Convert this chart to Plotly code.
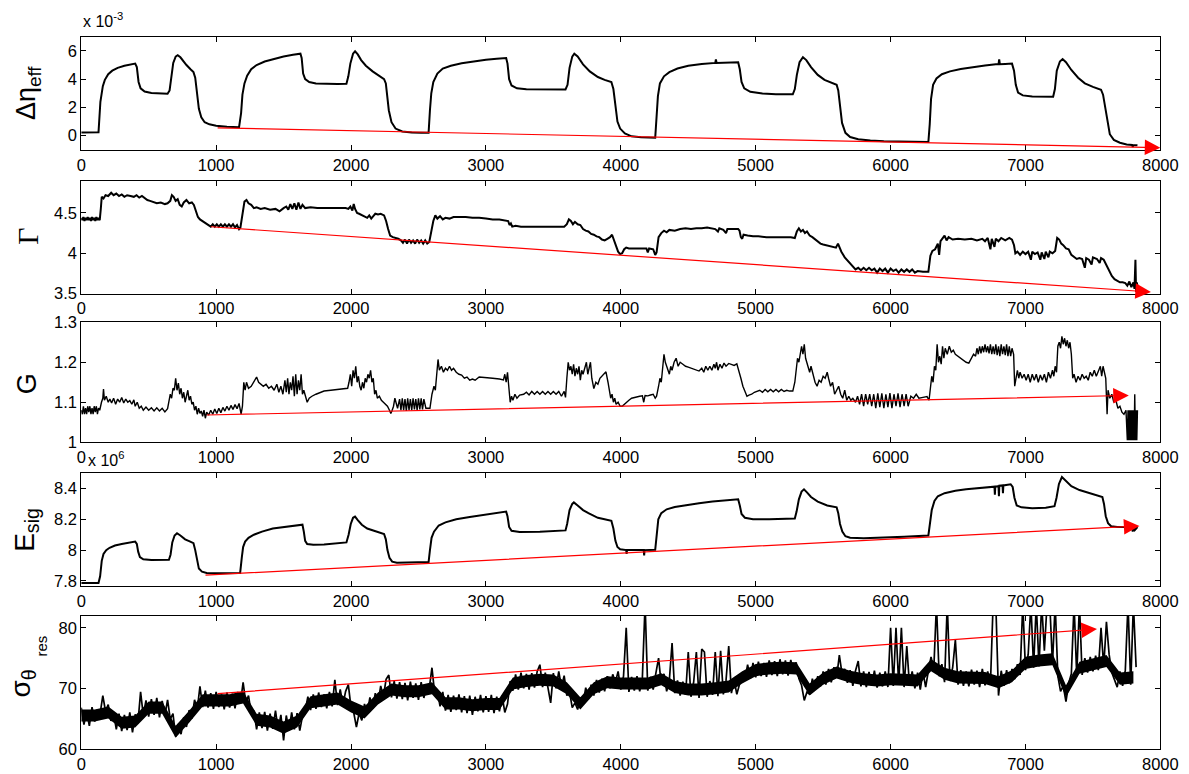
import plotly.graph_objects as go

# ---------------- data ----------------
x_ticks = [0, 1000, 2000, 3000, 4000, 5000, 6000, 7000, 8000]

# Panel 1: delta eta_eff (units of 1e-3)
eta_x = [0, 60, 128, 142, 160, 175, 200, 230, 270, 320, 370, 400, 412, 425, 440, 470, 520, 580, 640, 655, 668, 682,
         700, 715, 735, 755, 780, 810, 832, 845, 858, 872, 890, 915, 950, 1000, 1080, 1170, 1185, 1195, 1210, 1230,
         1260, 1300, 1360, 1430, 1500, 1570, 1625, 1634, 1645, 1660, 1690, 1740, 1800, 1900, 1966, 1980, 1995, 2015,
         2030, 2050, 2075, 2110, 2160, 2210, 2245, 2258, 2268, 2280, 2300, 2330, 2380, 2450, 2520, 2575, 2585, 2595,
         2610, 2640, 2680, 2740, 2820, 2900, 3000, 3080, 3150, 3160, 3172, 3190, 3230, 3300, 3400, 3590, 3605, 3620,
         3640, 3655, 3680, 3720, 3770, 3830, 3880, 3930, 3945, 3960, 3975, 3995, 4030, 4080, 4150, 4255, 4262, 4275,
         4290, 4320, 4360, 4420, 4500, 4600, 4700, 4705, 4710, 4800, 4870, 4882, 4895, 4915, 4960, 5050, 5150, 5275,
         5290, 5305, 5325, 5350, 5375, 5410, 5460, 5510, 5560, 5600, 5612, 5625, 5640, 5665, 5700, 5760, 5850, 5950,
         6100, 6280, 6290, 6300, 6315, 6340, 6380, 6440, 6520, 6600, 6700, 6780, 6800, 6805, 6810, 6850, 6900, 6915,
         6928, 6945, 6980, 7050, 7150, 7205, 7218, 7232, 7255, 7275, 7300, 7340, 7390, 7440, 7500, 7560, 7575, 7590,
         7605, 7625, 7655, 7700, 7750, 7790, 7795, 7800, 7830]
eta_y = [0.23, 0.24, 0.24, 2.4, 3.5, 3.95, 4.35, 4.6, 4.8, 4.95, 5.05, 5.1, 4.85, 3.8, 3.35, 3.12, 3.02, 2.97, 2.97,
         3.2, 4.3, 5.15, 5.6, 5.7, 5.55, 5.3, 5.0, 4.7, 4.5, 4.1, 3.0, 1.9, 1.3, 0.95, 0.8, 0.7, 0.63, 0.6, 1.6, 2.9,
         3.7, 4.25, 4.7, 5.0, 5.25, 5.45, 5.6, 5.72, 5.8, 5.5, 4.4, 4.0, 3.8, 3.7, 3.67, 3.66, 3.68, 4.2, 5.1, 5.8,
         5.97, 5.75, 5.35, 4.95, 4.55, 4.25, 4.0, 3.7, 2.8, 1.8, 0.95, 0.5, 0.3, 0.22, 0.2, 0.2, 1.8, 3.0, 3.8, 4.4,
         4.75, 4.95, 5.12, 5.25, 5.38, 5.45, 5.5, 5.1, 4.0, 3.55, 3.35, 3.28, 3.27, 3.27, 3.6, 4.8, 5.6, 5.8, 5.6,
         5.05, 4.55, 4.15, 3.95, 3.8, 3.3, 2.0, 1.0, 0.5, 0.15, -0.05, -0.12, -0.15, 1.0, 2.8, 3.7, 4.2, 4.5, 4.75,
         4.95, 5.08, 5.15, 5.4, 5.15, 5.2, 5.2, 4.7, 3.8, 3.35, 3.1, 2.98, 2.93, 2.93, 3.3, 4.3, 5.2, 5.55, 5.35,
         4.85, 4.3, 3.95, 3.75, 3.6, 3.2, 2.0, 0.9, 0.2, -0.1, -0.25, -0.35, -0.4, -0.42, -0.45, 0.8, 2.6, 3.6, 4.05,
         4.35, 4.55, 4.72, 4.85, 4.97, 5.05, 5.05, 5.4, 5.06, 5.08, 5.1, 4.6, 3.6, 3.05, 2.85, 2.77, 2.73, 2.75, 3.3,
         4.6, 5.25, 5.42, 5.2, 4.65, 4.1, 3.7, 3.45, 3.25, 2.9, 2.0, 1.0, 0.1, -0.3, -0.5, -0.62, -0.66, -0.8, -0.66,
         -0.68]

# Panel 2: Gamma
gam_x = [0, 8, 16, 24, 32, 40, 48, 56, 64, 72, 80, 88, 96, 104, 112, 120, 128, 137, 145, 152, 165, 180, 200, 222,
         240, 260, 280, 300, 320, 340, 365, 390, 410, 430, 450, 470, 490, 510, 530, 560, 590, 620, 640, 660, 672,
         685, 700, 715, 730, 745, 760, 780, 800, 820, 835, 850, 865, 880, 900, 920, 940, 960, 975, 990, 1005, 1020,
         1035, 1050, 1065, 1080, 1095, 1110, 1125, 1140, 1155, 1170, 1180, 1195, 1210, 1225, 1240, 1260, 1280, 1300,
         1330, 1360, 1400, 1440, 1470, 1500, 1520, 1535, 1550, 1565, 1580, 1595, 1610, 1625, 1640, 1660, 1700, 1750,
         1800, 1850, 1900, 1960, 1980, 1995, 2010, 2020, 2030, 2045, 2060, 2080, 2100, 2120, 2135, 2150, 2165, 2180,
         2200, 2220, 2245, 2260, 2275, 2290, 2310, 2330, 2350, 2370, 2385, 2400, 2415, 2430, 2445, 2460, 2475, 2490,
         2505, 2520, 2535, 2550, 2565, 2580, 2595, 2610, 2625, 2640, 2660, 2680, 2700, 2730, 2760, 2800, 2850, 2900,
         2950, 3000, 3050, 3100, 3150, 3165, 3175, 3185, 3195, 3220, 3260, 3300, 3400, 3500, 3580, 3600, 3615, 3630,
         3645, 3660, 3680, 3700, 3720, 3740, 3760, 3780, 3800, 3820, 3840, 3860, 3880, 3900, 3920, 3935, 3950, 3965,
         3980, 3995, 4010, 4025, 4040, 4060, 4100, 4150, 4190, 4200, 4210, 4240, 4255, 4265, 4280, 4300, 4320, 4340,
         4360, 4400, 4440, 4480, 4520, 4560, 4600, 4640, 4680, 4700, 4720, 4730, 4760, 4780, 4790, 4830, 4870, 4880,
         4890, 4900, 4910, 4940, 4980, 5020, 5080, 5150, 5200, 5260, 5290, 5305, 5320, 5335, 5350, 5365, 5380, 5400,
         5420, 5440, 5460, 5480, 5500, 5540, 5570, 5595, 5610, 5620, 5635, 5660, 5680, 5700, 5720, 5740, 5760, 5780,
         5800, 5820, 5840, 5860, 5880, 5900, 5920, 5940, 5960, 5980, 6000, 6020, 6040, 6060, 6080, 6100, 6120, 6140,
         6160, 6180, 6200, 6240, 6280, 6295, 6310, 6330, 6350, 6360, 6370, 6385, 6400, 6415, 6430, 6460, 6500, 6550,
         6600, 6640, 6680, 6700, 6720, 6740, 6750, 6770, 6780, 6800, 6820, 6850, 6880, 6900, 6915, 6925, 6940, 6960,
         6980, 7000, 7020, 7040, 7050, 7070, 7090, 7110, 7120, 7140, 7150, 7170, 7180, 7200, 7220, 7235, 7250, 7265,
         7280, 7300, 7320, 7340, 7360, 7380, 7400, 7420, 7440, 7450, 7470, 7490, 7500, 7530, 7550, 7560, 7580, 7600,
         7620, 7640, 7660, 7680, 7700, 7720, 7740, 7755, 7770, 7785, 7800, 7808, 7815, 7820, 7825, 7830]
gam_y = [4.44, 4.41, 4.45, 4.40, 4.44, 4.41, 4.45, 4.41, 4.44, 4.40, 4.45, 4.41, 4.44, 4.40, 4.45, 4.41, 4.44, 4.41,
         4.55, 4.70, 4.68, 4.72, 4.71, 4.75, 4.72, 4.74, 4.71, 4.73, 4.70, 4.72, 4.71, 4.70, 4.72, 4.69, 4.71, 4.68,
         4.66, 4.65, 4.64, 4.62, 4.63, 4.61, 4.62, 4.65, 4.72, 4.70, 4.65, 4.67, 4.60, 4.58, 4.63, 4.66, 4.62, 4.63,
         4.60, 4.52, 4.45, 4.42, 4.40, 4.37, 4.36, 4.33, 4.36, 4.33, 4.36, 4.33, 4.36, 4.33, 4.36, 4.33, 4.36, 4.33,
         4.36, 4.32, 4.35, 4.30, 4.32, 4.50, 4.64, 4.66, 4.62, 4.60, 4.56, 4.57, 4.55, 4.56, 4.54, 4.55, 4.52, 4.56,
         4.58, 4.54, 4.61, 4.55, 4.62, 4.54, 4.63, 4.55, 4.60, 4.56, 4.57, 4.56, 4.56, 4.56, 4.56, 4.56, 4.55, 4.58,
         4.53, 4.61, 4.55, 4.50, 4.49, 4.47, 4.46, 4.44, 4.47, 4.43, 4.46, 4.49, 4.48, 4.49, 4.47, 4.40, 4.30, 4.22,
         4.20, 4.19, 4.18, 4.16, 4.13, 4.17, 4.12, 4.17, 4.13, 4.16, 4.12, 4.17, 4.13, 4.16, 4.12, 4.16, 4.12, 4.14,
         4.30, 4.40, 4.47, 4.43, 4.46, 4.42, 4.44, 4.43, 4.45, 4.45, 4.45, 4.44, 4.44, 4.43, 4.42, 4.42, 4.41, 4.40,
         4.35, 4.37, 4.33, 4.34, 4.33, 4.33, 4.33, 4.33, 4.33, 4.36, 4.42, 4.40, 4.36, 4.39, 4.36, 4.35, 4.30, 4.28,
         4.27, 4.24, 4.23, 4.21, 4.20, 4.17, 4.16, 4.18, 4.20, 4.23, 4.15, 4.07, 4.02, 3.99, 4.00, 4.05, 4.07, 4.06,
         4.06, 4.06, 4.06, 4.01, 4.06, 4.05, 3.98, 4.01, 4.20, 4.25, 4.28, 4.26, 4.29, 4.28, 4.30, 4.31, 4.30, 4.31,
         4.31, 4.32, 4.31, 4.30, 4.27, 4.31, 4.29, 4.25, 4.30, 4.30, 4.30, 4.28, 4.20, 4.18, 4.23, 4.22, 4.21, 4.21,
         4.20, 4.20, 4.20, 4.20, 4.19, 4.27, 4.31, 4.27, 4.29, 4.25, 4.27, 4.22, 4.20, 4.17, 4.14, 4.12, 4.11, 4.09,
         4.08, 4.07, 4.12, 4.08, 4.02, 3.95, 3.91, 3.87, 3.83, 3.80, 3.82, 3.79, 3.82, 3.79, 3.82, 3.79, 3.81, 3.76,
         3.81, 3.78, 3.81, 3.76, 3.81, 3.78, 3.80, 3.76, 3.80, 3.77, 3.80, 3.77, 3.80, 3.76, 3.78, 3.77, 3.77, 3.97,
         4.03, 4.05, 4.12, 3.98, 4.15, 4.18, 4.22, 4.16, 4.20, 4.17, 4.18, 4.17, 4.18, 4.16, 4.18, 4.15, 4.19, 4.05,
         4.18, 4.08, 4.18, 4.15, 4.19, 4.16, 4.19, 4.17, 4.10, 4.00, 4.02, 3.98, 4.02, 3.99, 4.02, 3.92, 4.02, 3.99,
         4.01, 3.92, 4.01, 3.93, 4.02, 3.95, 4.02, 4.00, 4.03, 4.19, 4.17, 4.12, 4.10, 4.06, 4.05, 3.98, 3.95, 3.93,
         3.94, 3.93, 3.82, 3.94, 3.92, 3.86, 3.95, 3.93, 3.88, 3.94, 3.92, 3.85, 3.78, 3.72, 3.68, 3.66, 3.64, 3.64,
         3.63, 3.60, 3.65, 3.58, 3.64, 3.56, 3.92, 3.52, 3.64, 3.60]

# Panel 3: G
g_x = [0, 8, 16, 24, 32, 40, 48, 56, 64, 72, 80, 88, 96, 104, 112, 120, 128, 137, 150, 160, 165, 172, 185, 200, 212,
       225, 240, 255, 270, 285, 300, 315, 330, 345, 360, 375, 390, 400, 415, 430, 445, 460, 480, 500, 520, 540, 560,
       580, 600, 620, 640, 650, 660, 670, 680, 690, 700, 710, 720, 730, 740, 750, 760, 770, 780, 790, 800, 810, 820,
       830, 840, 850, 860, 870, 880, 890, 900, 910, 920, 930, 945, 960, 975, 990, 1005, 1020, 1035, 1050, 1065, 1080,
       1095, 1110, 1125, 1140, 1155, 1170, 1185, 1195, 1205, 1215, 1225, 1240, 1260, 1280, 1300, 1315, 1330, 1350,
       1370, 1390, 1410, 1430, 1450, 1465, 1480, 1495, 1510, 1520, 1530, 1540, 1550, 1560, 1570, 1580, 1590, 1600,
       1610, 1620, 1630, 1640, 1650, 1660, 1675, 1690, 1710, 1740, 1770, 1800, 1850, 1900, 1950, 1975, 1985, 1995,
       2005, 2015, 2025, 2035, 2045, 2055, 2065, 2075, 2085, 2095, 2105, 2115, 2125, 2135, 2145, 2155, 2165, 2175,
       2185, 2195, 2210, 2225, 2240, 2255, 2270, 2285, 2295, 2305, 2315, 2325, 2335, 2345, 2360, 2370, 2380, 2390,
       2400, 2410, 2420, 2430, 2440, 2450, 2460, 2470, 2480, 2490, 2500, 2510, 2520, 2530, 2540, 2555, 2570, 2585,
       2600, 2615, 2625, 2635, 2645, 2655, 2670, 2685, 2700, 2715, 2730, 2745, 2760, 2780, 2800, 2820, 2840, 2860,
       2880, 2900, 2920, 2950, 3000, 3050, 3100, 3130, 3140, 3150, 3160, 3170, 3180, 3190, 3200, 3215, 3230, 3250,
       3280, 3300, 3320, 3340, 3360, 3380, 3400, 3420, 3440, 3460, 3480, 3500, 3520, 3540, 3560, 3580, 3590, 3600,
       3610, 3620, 3630, 3640, 3650, 3660, 3670, 3680, 3690, 3700, 3710, 3720, 3735, 3745, 3755, 3765, 3775, 3785,
       3800, 3815, 3830, 3845, 3860, 3875, 3890, 3905, 3915, 3925, 3935, 3945, 3955, 3965, 3980, 3995, 4010, 4025,
       4040, 4060, 4080, 4100, 4120, 4140, 4160, 4170, 4180, 4200, 4220, 4240, 4255, 4265, 4280, 4290, 4300, 4310,
       4320, 4330, 4340, 4350, 4360, 4370, 4380, 4395, 4410, 4425, 4440, 4460, 4480, 4500, 4520, 4540, 4560, 4580,
       4600, 4615, 4630, 4645, 4660, 4675, 4690, 4700, 4710, 4720, 4735, 4750, 4765, 4780, 4800, 4820, 4840, 4860,
       4875, 4890, 4905, 4920, 4935, 4950, 4970, 4990, 5010, 5030, 5050, 5070, 5090, 5110, 5130, 5150, 5170, 5190,
       5210, 5230, 5250, 5275, 5290, 5300, 5310, 5320, 5330, 5340, 5350, 5360, 5370, 5380, 5390, 5400, 5410, 5425,
       5440, 5455, 5470, 5485, 5500, 5515, 5530, 5540, 5555, 5570, 5585, 5600, 5615, 5630, 5645, 5660, 5675, 5690,
       5705, 5720, 5740, 5755, 5770, 5785, 5800, 5815, 5830, 5845, 5860, 5875, 5890, 5905, 5920, 5935, 5950, 5965,
       5980, 5995, 6010, 6025, 6040, 6055, 6070, 6085, 6100, 6115, 6130, 6150, 6170, 6190, 6210, 6240, 6270, 6285,
       6295, 6305, 6315, 6325, 6335, 6345, 6355, 6365, 6375, 6385, 6395, 6405, 6420, 6435, 6450, 6465, 6480, 6500,
       6520, 6540, 6560, 6580, 6600, 6615, 6630, 6640, 6650, 6660, 6670, 6680, 6690, 6700, 6710, 6720, 6730, 6740,
       6750, 6760, 6770, 6780, 6790, 6800, 6810, 6820, 6830, 6840, 6850, 6860, 6870, 6880, 6890, 6900, 6912, 6920,
       6930, 6940, 6950, 6960, 6975, 6990, 7005, 7020, 7035, 7050, 7065, 7080, 7095, 7110, 7125, 7140, 7155, 7170,
       7185, 7200, 7210, 7220, 7230, 7240, 7250, 7260, 7270, 7280, 7290, 7300, 7310, 7320, 7330, 7340, 7350, 7360,
       7375, 7390, 7405, 7420, 7435, 7450, 7465, 7480, 7495, 7510, 7525, 7540, 7555, 7565, 7575, 7585, 7595, 7605,
       7612, 7625, 7640, 7655, 7670, 7685, 7700, 7715, 7730, 7745, 7755, 7760, 7765, 7770, 7775, 7780, 7785, 7790,
       7795, 7800, 7805, 7810, 7815, 7820, 7825, 7830]
g_y = [1.08, 1.07, 1.09, 1.07, 1.085, 1.07, 1.09, 1.075, 1.09, 1.07, 1.085, 1.07, 1.09, 1.075, 1.09, 1.07, 1.085,
       1.08, 1.10, 1.11, 1.133, 1.105, 1.115, 1.10, 1.108, 1.098, 1.11, 1.095, 1.108, 1.10, 1.112, 1.098, 1.108,
       1.10, 1.104, 1.095, 1.106, 1.09, 1.10, 1.085, 1.09, 1.08, 1.088, 1.08, 1.086, 1.078, 1.086, 1.078, 1.085,
       1.076, 1.084, 1.10, 1.12, 1.11, 1.135, 1.13, 1.16, 1.13, 1.148, 1.12, 1.135, 1.11, 1.125, 1.10, 1.12, 1.13,
       1.105, 1.115, 1.095, 1.10, 1.08, 1.09, 1.07, 1.085, 1.072, 1.078, 1.065, 1.08, 1.06, 1.075, 1.068, 1.08,
       1.07, 1.083, 1.072, 1.085, 1.074, 1.087, 1.078, 1.09, 1.08, 1.092, 1.082, 1.094, 1.084, 1.097, 1.07, 1.09,
       1.15, 1.13, 1.15, 1.135, 1.14, 1.15, 1.163, 1.15, 1.145, 1.14, 1.145, 1.135, 1.14, 1.13, 1.145, 1.125, 1.14,
       1.12, 1.155, 1.125, 1.16, 1.12, 1.15, 1.13, 1.165, 1.115, 1.17, 1.12, 1.155, 1.13, 1.17, 1.12, 1.13, 1.115,
       1.10, 1.11, 1.115, 1.12, 1.125, 1.128, 1.13, 1.132, 1.134, 1.135, 1.15, 1.17, 1.14, 1.18, 1.16, 1.19, 1.15,
       1.165, 1.14, 1.13, 1.15, 1.135, 1.16, 1.15, 1.17, 1.16, 1.18, 1.15, 1.16, 1.12, 1.13, 1.11, 1.115, 1.105,
       1.10, 1.095, 1.09, 1.08, 1.072, 1.08, 1.09, 1.11, 1.095, 1.085, 1.108, 1.08, 1.11, 1.08, 1.108, 1.078, 1.11,
       1.08, 1.108, 1.08, 1.11, 1.082, 1.108, 1.08, 1.11, 1.082, 1.11, 1.082, 1.108, 1.085, 1.085, 1.085, 1.12,
       1.14, 1.13, 1.18, 1.207, 1.18, 1.19, 1.175, 1.185, 1.18, 1.19, 1.18, 1.185, 1.175, 1.17, 1.168, 1.16, 1.163,
       1.155, 1.158, 1.155, 1.163, 1.162, 1.16, 1.158, 1.156, 1.17, 1.15, 1.175, 1.13, 1.10, 1.115, 1.105, 1.12,
       1.11, 1.118, 1.12, 1.125, 1.118, 1.127, 1.12, 1.127, 1.12, 1.127, 1.12, 1.127, 1.12, 1.127, 1.12, 1.127,
       1.115, 1.127, 1.112, 1.16, 1.20, 1.18, 1.19, 1.17, 1.195, 1.165, 1.185, 1.17, 1.19, 1.155, 1.18, 1.17, 1.19,
       1.20, 1.17, 1.185, 1.20, 1.16, 1.134, 1.15, 1.145, 1.16, 1.165, 1.17, 1.176, 1.15, 1.13, 1.11, 1.12, 1.10,
       1.11, 1.095, 1.10, 1.09, 1.09, 1.095, 1.10, 1.105, 1.11, 1.112, 1.114, 1.115, 1.116, 1.10, 1.117, 1.116,
       1.118, 1.12, 1.11, 1.115, 1.14, 1.16, 1.15, 1.19, 1.22, 1.20, 1.19, 1.18, 1.17, 1.19, 1.18, 1.20, 1.21,
       1.19, 1.20, 1.195, 1.19, 1.188, 1.185, 1.183, 1.18, 1.178, 1.185, 1.175, 1.19, 1.18, 1.19, 1.18, 1.195,
       1.185, 1.20, 1.18, 1.195, 1.185, 1.198, 1.19, 1.197, 1.195, 1.192, 1.196, 1.18, 1.16, 1.14, 1.125, 1.115,
       1.118, 1.12, 1.125, 1.128, 1.13, 1.125, 1.132, 1.126, 1.132, 1.126, 1.132, 1.126, 1.132, 1.127, 1.13, 1.128,
       1.128, 1.15, 1.19, 1.21, 1.20, 1.22, 1.24, 1.22, 1.245, 1.21, 1.20, 1.19, 1.175, 1.19, 1.17, 1.15, 1.14,
       1.155, 1.15, 1.165, 1.16, 1.175, 1.16, 1.14, 1.15, 1.12, 1.13, 1.14, 1.12, 1.11, 1.13, 1.105, 1.115, 1.105,
       1.11, 1.10, 1.115, 1.095, 1.12, 1.09, 1.12, 1.095, 1.12, 1.09, 1.12, 1.085, 1.122, 1.088, 1.122, 1.085,
       1.12, 1.088, 1.123, 1.085, 1.12, 1.09, 1.122, 1.088, 1.12, 1.09, 1.12, 1.09, 1.115, 1.11, 1.12, 1.11, 1.112,
       1.114, 1.105, 1.14, 1.165, 1.15, 1.19, 1.18, 1.245, 1.20, 1.215, 1.195, 1.24, 1.21, 1.235, 1.22, 1.24,
       1.225, 1.23, 1.22, 1.215, 1.21, 1.205, 1.20, 1.198, 1.21, 1.22, 1.215, 1.235, 1.22, 1.24, 1.222, 1.24,
       1.225, 1.245, 1.225, 1.24, 1.222, 1.245, 1.22, 1.24, 1.22, 1.245, 1.218, 1.24, 1.215, 1.245, 1.22, 1.24,
       1.218, 1.245, 1.215, 1.24, 1.215, 1.235, 1.22, 1.14, 1.16, 1.18, 1.16, 1.175, 1.16, 1.17, 1.155, 1.17, 1.15,
       1.17, 1.155, 1.17, 1.15, 1.168, 1.155, 1.17, 1.15, 1.175, 1.16, 1.18, 1.165, 1.19, 1.175, 1.24, 1.25, 1.235,
       1.265, 1.245, 1.26, 1.24, 1.255, 1.235, 1.25, 1.22, 1.16, 1.17, 1.15, 1.165, 1.155, 1.17, 1.16, 1.165,
       1.155, 1.175, 1.165, 1.18, 1.165, 1.18, 1.19, 1.165, 1.19, 1.175, 1.16, 1.07, 1.13, 1.11, 1.12, 1.10, 1.105,
       1.085, 1.09, 1.075, 1.07, 1.08, 1.005, 1.08, 1.005, 1.08, 1.005, 1.08, 1.005, 1.08, 1.005, 1.08, 1.005,
       1.12, 1.005, 1.08, 1.005, 1.08]

# Panel 4: E_sig (units of 1e6)
esig_x = [0, 60, 128, 140, 152, 165, 185, 210, 250, 300, 350, 400, 412, 422, 435, 460, 520, 600, 650, 662, 675, 692,
          710, 735, 770, 800, 832, 845, 858, 872, 895, 930, 1000, 1100, 1178, 1190, 1200, 1215, 1240, 1280, 1340,
          1420, 1500, 1580, 1640, 1650, 1660, 1675, 1720, 1800, 1900, 1966, 1982, 1998, 2015, 2030, 2050, 2080, 2120,
          2170, 2220, 2245, 2258, 2270, 2285, 2305, 2340, 2450, 2575, 2585, 2597, 2615, 2650, 2700, 2780, 2880, 2990,
          3080, 3150, 3160, 3172, 3190, 3250, 3400, 3590, 3602, 3620, 3640, 3652, 3680, 3720, 3760, 3830, 3880, 3930,
          3945, 3960, 3975, 3995, 4040, 4043, 4046, 4170, 4173, 4176, 4255, 4265, 4278, 4300, 4340, 4400, 4480, 4580,
          4680, 4740, 4800, 4870, 4882, 4895, 4920, 4980, 5100, 5200, 5290, 5303, 5320, 5340, 5358, 5380, 5410, 5460,
          5530, 5600, 5612, 5625, 5642, 5665, 5700, 5800, 5950, 6100, 6280, 6292, 6305, 6325, 6350, 6400, 6480, 6560,
          6660, 6770, 6773, 6776, 6800, 6803, 6806, 6830, 6833, 6836, 6890, 6905, 6918, 6935, 6970, 7050, 7150, 7215,
          7230, 7248, 7270, 7300, 7340, 7400, 7480, 7570, 7582, 7595, 7612, 7635, 7680, 7750, 7790, 7795, 7800, 7810,
          7830]
esig_y = [7.786, 7.784, 7.786, 7.83, 7.93, 7.975, 8.0, 8.015, 8.03, 8.04, 8.048, 8.055, 8.04, 7.99, 7.955, 7.94,
          7.935, 7.935, 7.937, 7.97, 8.05, 8.095, 8.11, 8.095, 8.07, 8.058, 8.045, 8.0, 7.93, 7.88, 7.86, 7.852,
          7.85, 7.85, 7.852, 7.95, 8.02, 8.055, 8.08, 8.1, 8.12, 8.14, 8.15, 8.16, 8.165, 8.12, 8.06, 8.04, 8.035,
          8.037, 8.042, 8.05, 8.1, 8.17, 8.21, 8.218, 8.195, 8.165, 8.14, 8.125, 8.11, 8.105, 8.07, 8.0, 7.95, 7.925,
          7.918, 7.918, 7.922, 8.0, 8.08, 8.12, 8.16, 8.18, 8.2, 8.215, 8.23, 8.24, 8.25, 8.22, 8.15, 8.125, 8.118,
          8.12, 8.128, 8.17, 8.26, 8.3, 8.31, 8.29, 8.26, 8.24, 8.21, 8.2, 8.19, 8.14, 8.06, 8.02, 8.005, 8.0, 7.975,
          8.0, 8.0, 7.965, 8.0, 8.002, 8.1, 8.2, 8.24, 8.265, 8.28, 8.293, 8.305, 8.315, 8.32, 8.325, 8.33, 8.29,
          8.235, 8.21, 8.2, 8.2, 8.202, 8.205, 8.25, 8.33, 8.38, 8.395, 8.375, 8.345, 8.315, 8.29, 8.278, 8.24, 8.17,
          8.12, 8.09, 8.08, 8.077, 8.08, 8.087, 8.095, 8.17, 8.26, 8.32, 8.35, 8.37, 8.385, 8.395, 8.405, 8.412,
          8.36, 8.412, 8.415, 8.35, 8.418, 8.42, 8.37, 8.42, 8.428, 8.41, 8.34, 8.29, 8.278, 8.272, 8.275, 8.285,
          8.34, 8.43, 8.475, 8.45, 8.415, 8.39, 8.37, 8.345, 8.3, 8.22, 8.175, 8.155, 8.15, 8.148, 8.15, 8.12, 8.15,
          8.13, 8.15]

# Panel 5: sigma_theta_res, one reading every 20 samples (0 ... 7820)
sig_step = 20
sig_y = [
    66.8, 64.0, 66.2, 63.8, 66.9, 64.5, 66.5, 65.8, 68.8, 66.2, 67.3, 64.6, 65.9, 63.2, 65.8, 62.9, 65.6, 63.1, 66.0, 62.7, 65.7, 64.2, 69.4, 65.5, 68.0,
    65.3, 68.2, 65.6, 68.4, 65.2, 67.9, 65.5, 68.1, 64.9, 65.8, 62.0, 64.1, 62.4, 65.2, 63.6, 66.4, 65.0, 68.1, 66.5, 70.3, 66.9, 69.6, 66.8, 69.2, 66.6,
    69.4, 66.9, 69.0, 66.5, 69.3, 66.8, 69.1, 66.7, 69.4, 67.5, 71.0, 67.6, 68.8, 65.9, 66.3, 63.2, 66.0, 63.4, 66.1, 63.0, 65.8, 63.3, 66.3, 63.1, 65.6,
    61.4, 65.5, 63.0, 66.0, 63.2, 65.9, 63.0, 65.4, 66.2, 68.6, 66.4, 69.0, 66.6, 69.3, 66.9, 69.0, 66.7, 69.4, 67.0, 71.4, 67.2, 69.8, 67.3, 69.5, 70.6,
    66.8, 66.0, 63.6, 65.9, 64.7, 67.4, 65.8, 68.5, 66.6, 69.2, 67.5, 70.4, 68.6, 71.5, 72.2, 68.5, 71.2, 68.3, 71.0, 68.2, 70.9, 68.0, 71.1, 68.4, 70.8,
    68.1, 71.0, 68.4, 70.6, 70.0, 73.4, 69.2, 69.6, 67.0, 69.4, 66.3, 68.9, 66.1, 68.8, 66.4, 69.0, 66.0, 68.7, 65.9, 68.8, 65.6, 68.6, 66.2, 68.9, 66.0,
    68.7, 66.1, 68.9, 65.9, 68.6, 66.2, 68.8, 66.0, 67.4, 71.2, 69.6, 72.3, 69.8, 72.6, 70.0, 72.4, 69.8, 72.5, 70.1, 72.8, 73.9, 70.2, 72.6, 69.9, 67.6,
    72.5, 70.0, 72.8, 70.2, 72.1, 68.8, 69.4, 66.8, 67.6, 66.5, 68.5, 67.4, 70.1, 68.2, 70.6, 68.8, 71.4, 69.3, 71.6, 69.5, 72.0, 70.0, 72.3, 71.0, 72.8,
    69.8, 72.0, 80.0, 69.4, 71.9, 69.6, 72.0, 69.5, 71.8, 84.0, 69.6, 71.9, 69.8, 72.5, 75.0, 70.6, 72.4, 69.5, 71.4, 77.5, 69.2, 71.3, 68.8, 71.1, 68.9,
    76.0, 68.6, 71.0, 76.0, 68.4, 76.5, 76.0, 68.6, 71.2, 68.9, 76.0, 68.7, 76.2, 69.0, 71.3, 77.0, 69.2, 71.4, 69.0, 70.8, 72.3, 71.4, 73.9, 71.6, 74.2,
    71.8, 74.4, 72.0, 74.2, 71.9, 74.6, 72.2, 74.5, 72.0, 74.8, 72.3, 74.6, 72.1, 74.7, 72.4, 74.3, 71.6, 70.5, 68.0, 69.4, 69.0, 71.6, 69.8, 72.0, 70.3,
    72.8, 70.6, 73.2, 71.0, 73.5, 71.8, 75.5, 72.4, 73.2, 70.9, 73.0, 70.4, 72.9, 74.5, 70.3, 72.8, 70.2, 72.7, 70.4, 72.9, 70.1, 72.6, 70.3, 72.8, 70.2,
    80.0, 70.4, 80.0, 70.6, 80.0, 70.2, 77.0, 70.5, 72.8, 70.0, 72.6, 69.8, 72.7, 70.2, 72.9, 75.2, 73.0, 84.0, 72.0, 74.0, 71.0, 84.0, 71.2, 73.4, 78.0,
    70.6, 73.0, 70.4, 72.8, 70.3, 73.1, 70.6, 72.9, 70.2, 73.2, 70.5, 72.8, 70.6, 84.0, 84.0, 68.8, 72.9, 70.4, 73.0, 70.8, 73.2, 71.5, 74.0, 72.2, 84.0,
    73.0, 75.6, 84.0, 73.4, 84.0, 73.6, 84.0, 76.2, 84.0, 84.0, 74.0, 84.0, 72.0, 69.5, 70.4, 67.8, 70.8, 72.4, 84.0, 72.0, 84.0, 72.2, 75.0, 72.6, 75.2,
    72.8, 75.4, 73.0, 80.0, 73.6, 81.0, 75.6, 72.6, 71.4, 70.2, 72.8, 70.4, 73.0, 84.0, 70.6, 84.0, 73.5]
sig_x = [i * sig_step for i in range(len(sig_y))]

# Panel 5: dense core of the noise band (lower / upper edge, read every 100 samples, 0 ... 7800)
band_step = 100
sig_band_lo = [64.5, 64.5, 65.0, 63.3, 63.5, 65.8, 65.8, 61.8, 64.3, 67.0, 67.0, 67.0, 67.5, 63.8, 63.5, 62.5,
               63.5, 66.7, 67.0, 67.3, 66.0, 65.0, 67.3, 68.8, 68.5, 68.5, 69.0, 66.5, 66.5, 66.2, 66.4, 66.4,
               69.8, 70.2, 70.4, 70.3, 69.0, 66.5, 69.0, 70.0, 69.8, 69.8, 69.8, 70.5, 69.2, 68.8, 68.8, 69.0,
               69.3, 70.8, 72.0, 72.3, 72.4, 72.3, 68.8, 70.6, 71.6, 70.9, 70.5, 70.3, 70.5, 70.4, 70.3, 72.8,
               71.4, 70.8, 70.7, 70.7, 70.0, 71.0, 73.2, 73.6, 73.8, 68.5, 72.4, 73.0, 73.5, 70.6, 70.8]
sig_band_hi = [66.5, 66.5, 67.0, 65.3, 65.5, 67.8, 67.8, 63.8, 66.3, 69.0, 69.0, 69.0, 69.5, 65.8, 65.5, 64.5,
               65.5, 68.7, 69.0, 69.3, 68.0, 67.0, 69.3, 70.8, 70.5, 70.5, 71.0, 68.5, 68.5, 68.2, 68.4, 68.4,
               71.8, 72.2, 72.4, 72.3, 71.0, 68.5, 71.0, 72.0, 71.8, 71.8, 71.8, 72.5, 71.2, 70.8, 70.8, 71.0,
               71.3, 72.8, 74.0, 74.3, 74.4, 74.3, 70.8, 72.6, 73.6, 72.9, 72.5, 72.3, 72.5, 72.4, 72.3, 74.8,
               73.4, 72.8, 72.7, 72.7, 72.0, 73.0, 75.2, 75.6, 75.8, 70.5, 74.4, 75.0, 75.5, 72.6, 72.8]
band_x = [i * band_step for i in range(len(sig_band_lo))]

# Red trend arrows: (x_start, y_start, x_end, y_end) per panel
trend_eta = (1000, 0.55, 8000, -0.85)
trend_gam = (950, 4.33, 7930, 3.52)
trend_g = (920, 1.068, 7766, 1.117)
trend_esig = (910, 7.837, 7845, 8.157)
trend_sig = (1000, 69.1, 7530, 79.8)

# y tick values
eta_ticks = [0, 2, 4, 6]
gam_ticks = [3.5, 4, 4.5]
g_ticks = [1, 1.1, 1.2, 1.3]
esig_ticks = [7.8, 8, 8.2, 8.4]
sig_ticks = [60, 70, 80]

# ---------------- figure ----------------
# The captured page comes out about 2 % smaller than drawn and shifted by the page margin,
# so the figure is laid out in slightly enlarged pixel units to land on the target positions.
SHRINK = 0.98
MARGIN = 8
W, H = 1213, 790
FONT = "Liberation Sans, Arial, Helvetica, sans-serif"


def design(p):
    return p / SHRINK - MARGIN


def px_x(p):
    return design(p) / W


def px_y(p):
    return 1 - design(p) / H


x_dom = [px_x(84), px_x(1162)]
panel_px = [(35.7, 149.0), (180.0, 293.3), (322.0, 442.3), (473.3, 586.3), (616.3, 749.7)]
y_ranges = [[-1, 7], [3.5, 4.9], [1.0, 1.3], [7.768, 8.5], [60, 82]]
y_tick_sets = [eta_ticks, gam_ticks, g_ticks, esig_ticks, sig_ticks]
series = [(eta_x, eta_y), (gam_x, gam_y), (g_x, g_y), (esig_x, esig_y), (sig_x, sig_y)]
line_widths = [2.0, 2.0, 1.4, 2.0, 1.7]
trends = [trend_eta, trend_gam, trend_g, trend_esig, trend_sig]

fig = go.Figure()
layout = dict(width=W, height=H, margin=dict(l=0, r=0, t=0, b=0),
              paper_bgcolor="white", plot_bgcolor="white", showlegend=False,
              font=dict(family=FONT, size=16, color="black"))
annotations = []

for i in range(5):
    n = i + 1
    xa = "xaxis" if n == 1 else f"xaxis{n}"
    ya = "yaxis" if n == 1 else f"yaxis{n}"
    xr = "x" if n == 1 else f"x{n}"
    yr = "y" if n == 1 else f"y{n}"
    top, bot = panel_px[i]
    common = dict(showline=True, linecolor="black", linewidth=1, mirror="ticks", ticks="inside",
                  ticklen=5, tickwidth=1, tickcolor="black", showgrid=False, zeroline=False,
                  tickfont=dict(family=FONT, size=16.5, color="black"))
    layout[xa] = dict(domain=x_dom, range=[0, 8000], anchor=yr, tickvals=x_ticks,
                      ticktext=[str(v) for v in x_ticks], **common)
    layout[ya] = dict(domain=[px_y(bot), px_y(top)], range=y_ranges[i], anchor=xr,
                      tickvals=y_tick_sets[i], ticktext=[f"{v:g}" for v in y_tick_sets[i]], **common)
    if n == 5:
        # dense core of the noise band: lower edge, then upper edge filled down to it
        fig.add_trace(go.Scatter(x=band_x, y=sig_band_lo, mode="lines", line=dict(color="black", width=0),
                                 xaxis=xr, yaxis=yr, hoverinfo="skip"))
        fig.add_trace(go.Scatter(x=band_x, y=sig_band_hi, mode="lines", line=dict(color="black", width=0),
                                 fill="tonexty", fillcolor="black", xaxis=xr, yaxis=yr, hoverinfo="skip"))
    sx, sy = series[i]
    fig.add_trace(go.Scatter(x=sx, y=sy, mode="lines", line=dict(color="black", width=line_widths[i]),
                             xaxis=xr, yaxis=yr, hoverinfo="skip"))
    x0, y0, x1, y1 = trends[i]
    annotations.append(dict(x=x1, y=y1, ax=x0, ay=y0, xref=xr, yref=yr, axref=xr, ayref=yr,
                            showarrow=True, arrowhead=2, arrowsize=2.6, arrowwidth=1.2,
                            arrowcolor="red", text=""))


# axis titles (rotated)
def title(text, xpx, ypx, size=26, family=FONT):
    annotations.append(dict(text=text, x=px_x(xpx), y=px_y(ypx), xref="paper", yref="paper",
                            showarrow=False, textangle=-90, xanchor="center", yanchor="middle",
                            font=dict(family=family, size=size, color="black")))


title("Δη<sub>eff</sub>", 31, 92, size=27)
title("Γ", 30, 236, size=30, family="Liberation Serif, Times New Roman, serif")
title("G", 30, 384, size=27)
title("E<sub>sig</sub>", 29, 530, size=28)
title("σ<sub>θ</sub>", 25, 684, size=28)
title("res", 44, 647, size=15)

# exponent labels
annotations.append(dict(text="x 10<sup>-3</sup>", x=px_x(84), y=px_y(19), xref="paper", yref="paper",
                        showarrow=False, xanchor="left", yanchor="middle",
                        font=dict(family=FONT, size=16, color="black")))
annotations.append(dict(text="x 10<sup>6</sup>", x=px_x(89), y=px_y(459), xref="paper", yref="paper",
                        showarrow=False, xanchor="left", yanchor="middle",
                        font=dict(family=FONT, size=16, color="black")))

layout["annotations"] = annotations
fig.update_layout(**layout)
fig.write_html("out.html")
